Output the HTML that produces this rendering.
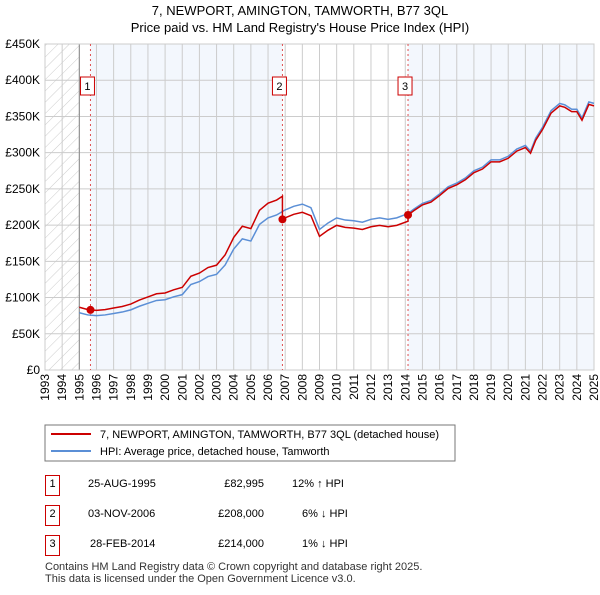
<!DOCTYPE html>
<html><head><meta charset="utf-8"><style>
body{margin:0;background:#fff;font-family:"Liberation Sans",sans-serif;}
svg text{font-family:"Liberation Sans",sans-serif;}
</style></head><body>
<svg id="c" width="600" height="590" xmlns="http://www.w3.org/2000/svg">
<defs><pattern id="hatch" width="8" height="8" patternUnits="userSpaceOnUse" patternTransform="rotate(45)"><line x1="0" y1="0" x2="0" y2="8" stroke="#ccc" stroke-width="1"/></pattern></defs>
<text x="300" y="15" text-anchor="middle" font-size="13">7, NEWPORT, AMINGTON, TAMWORTH, B77 3QL</text>
<text x="300" y="32" text-anchor="middle" font-size="13">Price paid vs. HM Land Registry's House Price Index (HPI)</text>
<g id="plot"></g>
<rect x="45" y="425" width="410" height="36" fill="#fff" stroke="#777"/>
<line x1="51" y1="434" x2="91" y2="434" stroke="#cc0000" stroke-width="2"/>
<text x="100" y="438" font-size="11">7, NEWPORT, AMINGTON, TAMWORTH, B77 3QL (detached house)</text>
<line x1="51" y1="451" x2="91" y2="451" stroke="#5b8fd6" stroke-width="2"/>
<text x="100" y="455" font-size="11">HPI: Average price, detached house, Tamworth</text>
<g font-size="11">
<rect x="45.5" y="475.5" width="14" height="20" fill="#fff" stroke="#cc0000"/><text x="52.5" y="487" text-anchor="middle">1</text>
<text x="88" y="487">25-AUG-1995</text><text x="264" y="487" text-anchor="end">£82,995</text><text x="292" y="487">12% ↑ HPI</text>
<rect x="45.5" y="505.5" width="14" height="20" fill="#fff" stroke="#cc0000"/><text x="52.5" y="517" text-anchor="middle">2</text>
<text x="88" y="517">03-NOV-2006</text><text x="264" y="517" text-anchor="end">£208,000</text><text x="302" y="517">6% ↓ HPI</text>
<rect x="45.5" y="535.5" width="14" height="20" fill="#fff" stroke="#cc0000"/><text x="52.5" y="547" text-anchor="middle">3</text>
<text x="90" y="547">28-FEB-2014</text><text x="264" y="547" text-anchor="end">£214,000</text><text x="302" y="547">1% ↓ HPI</text>
</g>
<text x="45" y="570" font-size="11" fill="#333">Contains HM Land Registry data © Crown copyright and database right 2025.</text>
<text x="45" y="582" font-size="11" fill="#333">This data is licensed under the Open Government Licence v3.0.</text>
</svg>
<script>
const yTicks=[0,50,100,150,200,250,300,350,400,450];
const yTickLabels=["£0","£50K","£100K","£150K","£200K","£250K","£300K","£350K","£400K","£450K"];
const years=[1993,1994,1995,1996,1997,1998,1999,2000,2001,2002,2003,2004,2005,2006,2007,2008,2009,2010,2011,2012,2013,2014,2015,2016,2017,2018,2019,2020,2021,2022,2023,2024,2025];
const hpiDates=[1995.0,1995.5,1996,1996.5,1997,1997.5,1998,1998.5,1999,1999.5,2000,2000.5,2001,2001.5,2002,2002.5,2003,2003.5,2004,2004.5,2005,2005.5,2006,2006.5,2007,2007.5,2008,2008.5,2009,2009.5,2010,2010.5,2011,2011.5,2012,2012.5,2013,2013.5,2014.16,2014.5,2015,2015.5,2016,2016.5,2017,2017.5,2018,2018.5,2019,2019.5,2020,2020.5,2021,2021.3,2021.6,2022,2022.5,2023,2023.3,2023.7,2024,2024.3,2024.7,2025];
const hpiValues=[79,76,75,76,78,80,83,88,92,96,97,101,104,118,122,129,132,145,167,181,178,201,210,214,221,226,229,224,194,203,210,207,206,204,208,210,208,210,216,222,230,234,243,253,258,265,275,280,290,290,295,305,310,302,320,335,358,368,366,360,360,348,370,368];
const saleDates=[1995.65,2006.84,2014.16];
const salePrices=[82.995,208,214];
const saleLabels=["1","2","3"];
const NS="http://www.w3.org/2000/svg";
const L=45,R=594,T=44,B=370;
const xs=t=>L+(t-1993)/(2025-1993)*(R-L);
const ys=v=>B-v/450*(B-T);
const g=document.getElementById('plot');
function mk(tag,at,parent){const e=document.createElementNS(NS,tag);for(const k in at)e.setAttribute(k,at[k]);(parent||g).appendChild(e);return e;}
function hpiAt(t){for(let i=0;i<hpiDates.length-1;i++){if(t>=hpiDates[i]&&t<=hpiDates[i+1]){const f=(t-hpiDates[i])/(hpiDates[i+1]-hpiDates[i]);return hpiValues[i]+f*(hpiValues[i+1]-hpiValues[i]);}}return hpiValues[hpiValues.length-1];}
let e=mk('rect',{x:L,y:T,width:xs(1995)-L,height:B-T,fill:'url(#hatch)'});


e=mk('rect',{x:xs(saleDates[0]),y:T,width:xs(saleDates[1])-xs(saleDates[0]),height:B-T,fill:'#eef3fc',opacity:0.7});


e=mk('rect',{x:xs(saleDates[2]),y:T,width:R-xs(saleDates[2]),height:B-T,fill:'#eef3fc',opacity:0.7});


yTicks.forEach((v,i)=>{
 e=mk('line',{x1:L,x2:R,y1:ys(v),y2:ys(v),stroke:'#ccc'});
 
 
 e=mk('text',{x:40,y:ys(v)+4,'text-anchor':'end','font-size':12});
 e.textContent=yTickLabels[i];
 
 
});
years.forEach(y=>{
 e=mk('line',{x1:xs(y),x2:xs(y),y1:T,y2:B,stroke:'#ccc'});
 
 
 e=mk('text',{x:0,y:0,'text-anchor':'end','font-size':12,transform:`translate(${xs(y)+4},374) rotate(-90)`});
 e.textContent=y;
 
 
});
e=mk('line',{x1:xs(1995),x2:xs(1995),y1:T,y2:B,stroke:'#888'});


e=mk('rect',{x:L,y:T,width:R-L,height:B-T,fill:'none',stroke:'#ccc'});


saleDates.forEach((d,i)=>{
 e=mk('line',{x1:xs(d),x2:xs(d),y1:T,y2:B,stroke:'#e05050','stroke-dasharray':'2,3'});
 
 
});
e=mk('polyline',{points:hpiDates.map((t,i)=>xs(t)+','+ys(hpiValues[i])).join(' '),fill:'none',stroke:'#5b8fd6','stroke-width':1.5});


let pts=[];
const segStarts=[1995.0].concat(saleDates);
for(let s=0;s<segStarts.length;s++){
 const a=segStarts[s], b=s<segStarts.length-1?segStarts[s+1]:2025;
 const refI=s===0?0:s-1;
 const ratio=salePrices[refI]/hpiAt(saleDates[refI]);
 const ts=[a].concat(hpiDates.filter(t=>t>a&&t<b)).concat([b]);
 ts.forEach(t=>pts.push(xs(t)+','+ys(hpiAt(t)*ratio)));
}
e=mk('polyline',{points:pts.join(' '),fill:'none',stroke:'#cc0000','stroke-width':1.5});


saleDates.forEach((d,i)=>{
 e=mk('circle',{cx:xs(d),cy:ys(salePrices[i]),r:4,fill:'#cc0000'});
 
 
 e=mk('rect',{x:xs(d)-10,y:77,width:14,height:18,fill:'#fff',stroke:'#cc0000'});
 
 
 e=mk('text',{x:xs(d)-3,y:90,'text-anchor':'middle','font-size':11});
 e.textContent=saleLabels[i];
 
 
});
</script>
</body></html>
